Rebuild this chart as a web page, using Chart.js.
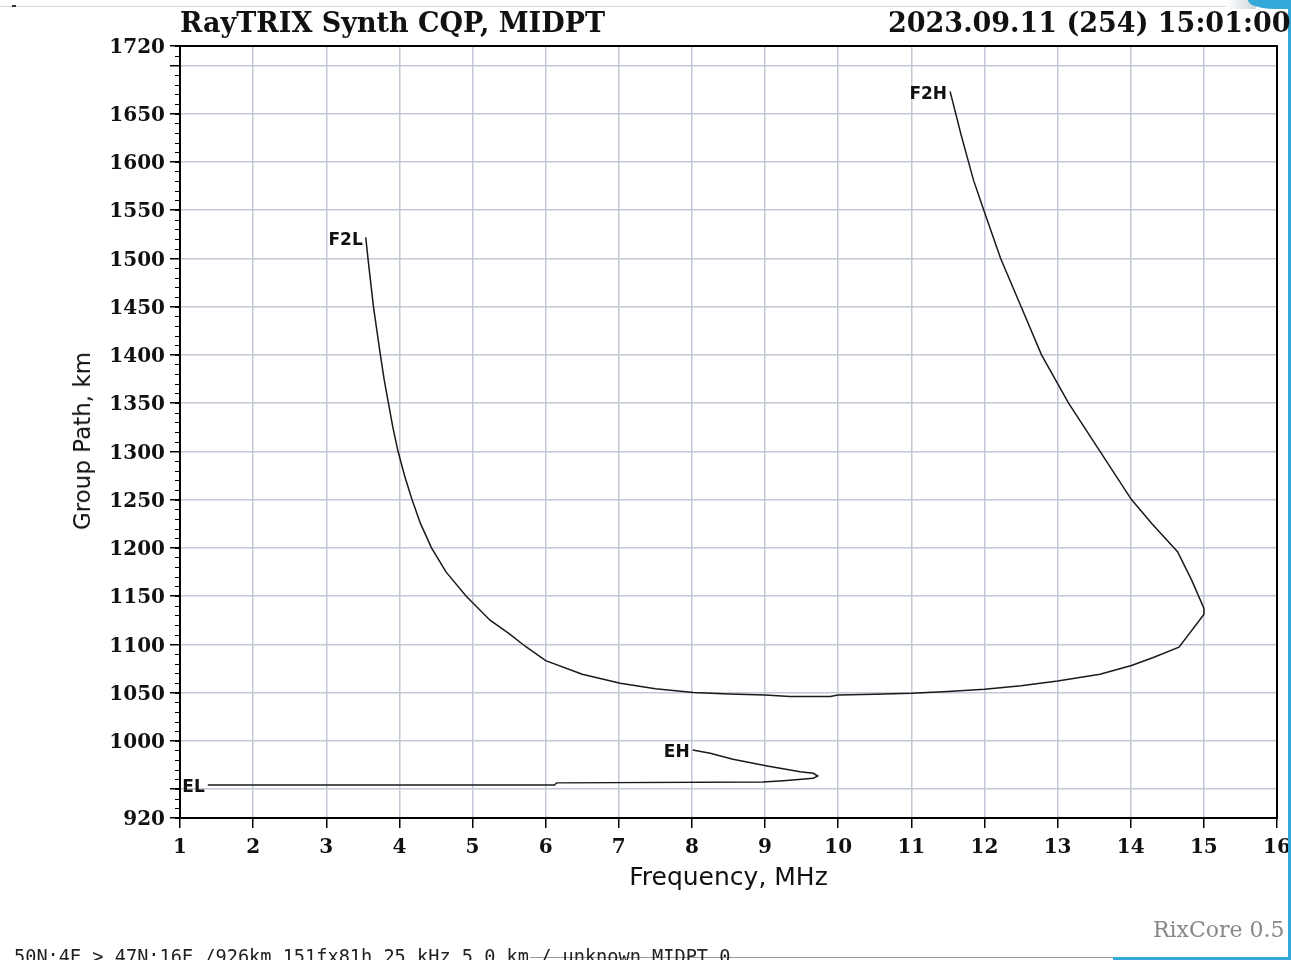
<!DOCTYPE html>
<html><head><meta charset="utf-8">
<script src="https://cdn.jsdelivr.net/npm/chart.js@4.4.0/dist/chart.umd.min.js"></script>
<style>
html,body{margin:0;padding:0;background:#fff;width:1291px;height:960px;overflow:hidden;position:relative}
#c{position:absolute;left:0;top:0}
.t{position:absolute;white-space:nowrap;line-height:1}
</style></head><body>
<canvas id="c" width="1291" height="960"></canvas>
<div class="t" style="left:0;top:6px;width:1240px;height:1px;background:#d8d8d8"></div>
<div class="t" style="left:12px;top:5px;width:4px;height:2px;background:#333"></div>
<div class="t" style="left:1226px;top:0;width:30px;height:9px;background:linear-gradient(90deg,#fff,#cfd6da)"></div>
<div class="t" style="left:1248px;top:0;width:43px;height:9px;background:#34a9d9;border-bottom-left-radius:26px 9px"></div>
<div class="t" style="left:1288px;top:0;width:3px;height:960px;background:#34a9d9"></div>
<div class="t" style="left:530px;top:957px;width:583px;height:1px;background:#999"></div>
<div class="t" style="left:1113px;top:957px;width:178px;height:3px;background:#34a9d9"></div>
<div class="t" id="title" style="left:180px;top:7px;font:bold 27px 'DejaVu Serif';color:#111">RayTRIX Synth CQP, MIDPT</div>
<div class="t" id="date" style="left:888px;top:7px;font:bold 27px 'DejaVu Serif';color:#111">2023.09.11 (254) 15:01:00</div>
<div class="t" id="ytitle" style="left:82px;top:441px;font:23px 'DejaVu Sans';color:#111;transform:translate(-50%,-50%) rotate(-90deg)">Group Path, km</div>
<div class="t" id="rix" style="left:1153px;top:917px;font:22px 'DejaVu Serif';color:#888">RixCore 0.5</div>
<div class="t" id="foot" style="left:14px;top:946px;font:18.6px 'DejaVu Sans Mono';color:#222">50N:4E &gt; 47N:16E /926km 151fx81h 25 kHz 5.0 km / unknown MIDPT 0</div>
<script>
// ---- data ----
const f2Freq = [3.54,3.57,3.645,3.74,3.79,3.85,3.91,3.981,4.070,4.172,4.289,4.439,4.637,4.911,5.239,5.5,5.72,6.0,6.5,7.02,7.5,8.02,8.5,9.0,9.34,9.89,10.0,10.5,11.0,11.5,12.0,12.5,13.0,13.58,14.01,14.3,14.66,15.0,15.0,14.83,14.64,14.29,14.01,13.58,13.15,12.78,12.5,12.22,11.99,11.85,11.68,11.53];
const f2Path = [1521.8,1500,1450,1400,1375,1350,1325,1300,1275,1250,1225,1200,1175,1150,1125,1111,1098,1083,1069,1059.6,1054,1050,1048.5,1047.5,1046,1046,1047.5,1048.3,1049.2,1051,1053.4,1057,1062,1069,1078,1086,1097,1131,1137.5,1167,1196,1225,1250,1300,1350,1400,1450,1500,1550,1581,1628,1673];
const eFreq = [1.38,6.12,6.15,8.97,9.25,9.66,9.72,9.66,9.48,9.03,8.56,8.25,8.01];
const ePath = [954.2,954.2,956.4,957.4,958.7,961.1,963.5,966.3,968,974,980.8,987,990.5];
const curveLabels = ['F2L','F2H','EL','EH'];
const xTickValues = [1,2,3,4,5,6,7,8,9,10,11,12,13,14,15,16];
const yTickValues = [920,950,1000,1050,1100,1150,1200,1250,1300,1350,1400,1450,1500,1550,1600,1650,1700,1720];
const yTickLabels = ['920','','1000','1050','1100','1150','1200','1250','1300','1350','1400','1450','1500','1550','1600','1650','','1720'];
const yMinorStep = 10;

const toPts = (xs, ys) => xs.map((x, i) => ({x, y: ys[i]}));

const framePlugin = {
  id: 'frame',
  afterDraw(chart) {
    const {ctx, chartArea: a, scales: {y}} = chart;
    ctx.save();
    ctx.strokeStyle = '#000';
    ctx.lineWidth = 1;
    for (let v = y.min; v <= y.max; v += yMinorStep) {
      const py = Math.round(y.getPixelForValue(v)) + 0.5;
      ctx.beginPath(); ctx.moveTo(a.left - 5, py); ctx.lineTo(a.left, py); ctx.stroke();
    }
    ctx.lineWidth = 2;
    ctx.strokeRect(a.left, a.top, a.right - a.left, a.bottom - a.top);
    // curve end labels
    ctx.font = 'bold 17px "DejaVu Sans"';
    ctx.fillStyle = '#111';
    ctx.textAlign = 'right';
    ctx.textBaseline = 'middle';
    const ends = [];
    chart.data.datasets.forEach((ds, di) => {
      const pts = chart.getDatasetMeta(di).data;
      ends.push(pts[0], pts[pts.length - 1]);
    });
    ends.forEach((p, i) => ctx.fillText(curveLabels[i], p.x - 3, p.y + 3));
    ctx.restore();
  }
};

const tickFont = {family: 'DejaVu Serif', weight: 'bold', size: 20};
const lineStyle = {showLine: true, pointRadius: 0, borderColor: '#1a1a1a', borderWidth: 1.5, tension: 0, fill: false};

new Chart(document.getElementById('c'), {
  type: 'scatter',
  data: {
    datasets: [
      Object.assign({label: 'F2', data: toPts(f2Freq, f2Path)}, lineStyle),
      Object.assign({label: 'E', data: toPts(eFreq, ePath)}, lineStyle)
    ]
  },
  options: {
    responsive: false,
    animation: false,
    layout: {padding: {top: 46, right: 14, left: 0, bottom: 0}},
    plugins: {legend: {display: false}, tooltip: {enabled: false}, title: {display: false}},
    scales: {
      x: {
        type: 'linear', min: 1, max: 16,
        afterBuildTicks: s => { s.ticks = xTickValues.map(v => ({value: v})); },
        afterFit: s => { s.height = 142; s.paddingRight = 0; s.paddingLeft = 0; },
        ticks: {font: tickFont, color: '#111', padding: 8, maxRotation: 0, autoSkip: false},
        grid: {color: '#c3c8d6', lineWidth: 1.5, tickLength: 10, tickColor: '#000', tickWidth: 1.5},
        border: {display: false},
        title: {display: true, text: 'Frequency, MHz', color: '#111', font: {family: 'DejaVu Sans', size: 25}, padding: {top: 0, bottom: 67}}
      },
      y: {
        type: 'linear', min: 920, max: 1720,
        afterBuildTicks: s => { s.ticks = yTickValues.map(v => ({value: v})); },
        afterFit: s => { s.width = 180; s.paddingTop = 0; s.paddingBottom = 0; },
        ticks: {font: tickFont, color: '#111', padding: 5, autoSkip: false, labelOffset: 2,
          callback: (v, i) => yTickLabels[i]},
        grid: {color: '#c3c8d6', lineWidth: 1.5, tickLength: 10, tickColor: '#000', tickWidth: 1.5},
        border: {display: false}
      }
    }
  },
  plugins: [framePlugin]
});
</script>
</body></html>
